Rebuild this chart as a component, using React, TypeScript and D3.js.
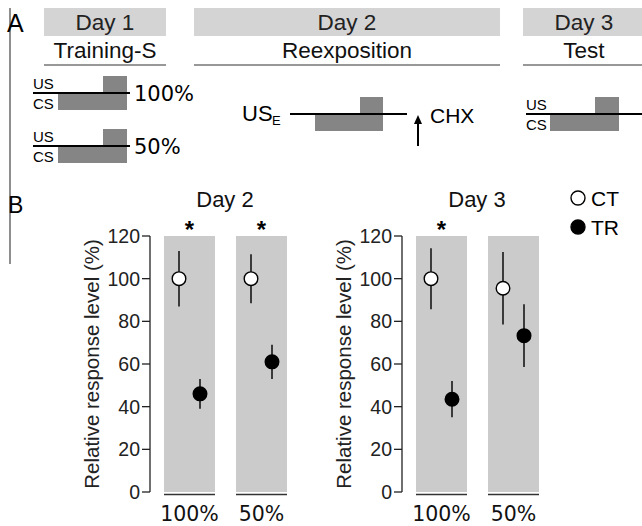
import React from 'react';
import * as d3 from 'd3';

// conditions (training strength) and groups
const conditions = ['100%', '50%'];
const groups = ['CT', 'TR'];

// relative response level (%) : mean and error bar half-length
const day2CT = [100, 100];
const day2CTErr = [13, 11.5];
const day2TR = [46, 61];
const day2TRErr = [7, 8];
const day3CT = [100, 95.5];
const day3CTErr = [14.3, 17];
const day3TR = [43.5, 73.3];
const day3TRErr = [8.5, 14.7];

// significance star per condition
const day2Sig = [true, true];
const day3Sig = [true, false];

const yTicks = [0, 20, 40, 60, 80, 100, 120];

const SANS = 'Liberation Sans, Arial, sans-serif';
const DEJA = 'DejaVu Sans, sans-serif';

const y = d3.scaleLinear().domain([0, 120]).range([492, 236]);
const xBand = d3.scaleBand<string>().domain(conditions).range([14, 137]).paddingInner(0.2917).paddingOuter(0);
const xGroup = d3.scalePoint<string>().domain(groups).range([0, xBand.bandwidth()]).padding(0.714);

function Panel({ x0, title, ct, ctErr, tr, trErr, sig }: any) {
  const series = [
    { key: 'CT', mean: ct, err: ctErr, fill: '#fff' },
    { key: 'TR', mean: tr, err: trErr, fill: '#000' },
  ];
  return (
    <g transform={`translate(${x0},0)`}>
      <text x={75} y={207} textAnchor="middle" fontSize={22} fontFamily={SANS} fill="#111">{title}</text>
      <text transform={`translate(-51,${(y(0) + y(120)) / 2}) rotate(-90)`} textAnchor="middle" fontSize={20.5} fontFamily={SANS} fill="#222">
        Relative response level (%)
      </text>
      {conditions.map((c, i) => (
        <g key={c}>
          <rect x={xBand(c)} y={y(120)} width={xBand.bandwidth()} height={y(0) - y(120)} fill="#cbcbcb" />
          <line x1={xBand(c)} x2={xBand(c)! + xBand.bandwidth()} y1={494.5} y2={494.5} stroke="#333" strokeWidth={1.5} />
          <text x={xBand(c)! + xBand.bandwidth() / 2} y={521} textAnchor="middle" fontSize={20.5} fontFamily={DEJA} fill="#111">{c}</text>
          {sig[i] && (
            <text x={xBand(c)! + xBand.bandwidth() / 2} y={238} textAnchor="middle" fontSize={24} fontWeight="bold" fontFamily={SANS}>*</text>
          )}
          {series.map((s) => {
            const cx = xBand(c)! + xGroup(s.key)!;
            return (
              <g key={s.key}>
                <line x1={cx} x2={cx} y1={y(s.mean[i] + s.err[i])} y2={y(s.mean[i] - s.err[i])} stroke="#222" strokeWidth={1.7} />
                <circle cx={cx} cy={y(s.mean[i])} r={6.8} fill={s.fill} stroke="#000" strokeWidth={1.4} />
              </g>
            );
          })}
        </g>
      ))}
      <line x1={0} x2={0} y1={y(0)} y2={y(120)} stroke="#222" strokeWidth={1.3} />
      {yTicks.map((t) => (
        <g key={t}>
          <line x1={-8} x2={0} y1={y(t)} y2={y(t)} stroke="#222" strokeWidth={1.3} />
          <text x={-10} y={y(t) + 7} textAnchor="end" fontSize={19.5} fontFamily={SANS} fill="#222">{t}</text>
        </g>
      ))}
    </g>
  );
}

function Schematic({ x, lineY, lineEnd, csX, usX, boxEnd, labels }: any) {
  return (
    <g>
      {labels && (
        <>
          <text x={x} y={lineY - 4} fontSize={15} fontFamily={SANS}>US</text>
          <text x={x} y={lineY + 16} fontSize={15} fontFamily={SANS}>CS</text>
        </>
      )}
      <rect x={csX} y={lineY} width={boxEnd - csX} height={17} fill="#858585" />
      <rect x={usX} y={lineY - 17} width={boxEnd - usX} height={17} fill="#858585" />
      <line x1={x} x2={lineEnd} y1={lineY} y2={lineY} stroke="#000" strokeWidth={2.2} />
    </g>
  );
}

export default function App() {
  const headers = [
    { day: 'Day 1', sub: 'Training-S', x1: 44, x2: 166, cx: 105 },
    { day: 'Day 2', sub: 'Reexposition', x1: 194, x2: 500, cx: 347 },
    { day: 'Day 3', sub: 'Test', x1: 523, x2: 646, cx: 584 },
  ];
  return (
    <svg width={642} height={526} style={{ position: 'absolute', left: 0, top: 0, background: '#fff' }}>
      <line x1={10} x2={10} y1={8} y2={264} stroke="#444" strokeWidth={1.2} />
      <text x={7} y={32} fontSize={25} fontFamily={SANS}>A</text>
      <text x={8} y={213} fontSize={23} fontFamily={SANS}>B</text>

      {headers.map((h) => (
        <g key={h.day}>
          <rect x={h.x1} y={8} width={h.x2 - h.x1} height={28} fill="#d4d4d4" />
          <text x={h.cx} y={30} textAnchor="middle" fontSize={22.5} fontFamily={SANS} fill="#222">{h.day}</text>
          <text x={h.cx} y={58} textAnchor="middle" fontSize={22.5} fontFamily={SANS} fill="#111">{h.sub}</text>
          <line x1={h.x1} x2={h.x2} y1={65} y2={65} stroke="#333" strokeWidth={1.2} />
        </g>
      ))}

      <Schematic x={33} lineY={93} lineEnd={130} csX={58} usX={103} boxEnd={127} labels />
      <text x={134} y={101} fontSize={21} fontFamily={DEJA}>100%</text>
      <Schematic x={33} lineY={146} lineEnd={130} csX={58} usX={103} boxEnd={127} labels />
      <text x={134} y={154} fontSize={21} fontFamily={DEJA}>50%</text>

      <text x={242} y={121} fontSize={22} fontFamily={SANS}>US</text>
      <text x={272} y={125} fontSize={13} fontFamily={SANS}>E</text>
      <Schematic x={290} lineY={114} lineEnd={407} csX={315} usX={360} boxEnd={383} />
      <line x1={418} x2={418} y1={146} y2={122} stroke="#000" strokeWidth={2} />
      <path d="M414,124 L418,115 L422,124 Z" fill="#000" />
      <text x={430} y={123} fontSize={21} fontFamily={SANS}>CHX</text>

      <Schematic x={526} lineY={114} lineEnd={642} csX={550} usX={595} boxEnd={619} labels />

      <Panel x0={150} title="Day 2" ct={day2CT} ctErr={day2CTErr} tr={day2TR} trErr={day2TRErr} sig={day2Sig} />
      <Panel x0={402} title="Day 3" ct={day3CT} ctErr={day3CTErr} tr={day3TR} trErr={day3TRErr} sig={day3Sig} />

      {groups.map((g, i) => (
        <g key={g}>
          <circle cx={578} cy={198 + i * 29} r={7} fill={g === 'CT' ? '#fff' : '#000'} stroke="#000" strokeWidth={1.4} />
          <text x={591} y={206 + i * 29} fontSize={21} fontFamily={SANS}>{g}</text>
        </g>
      ))}
    </svg>
  );
}
